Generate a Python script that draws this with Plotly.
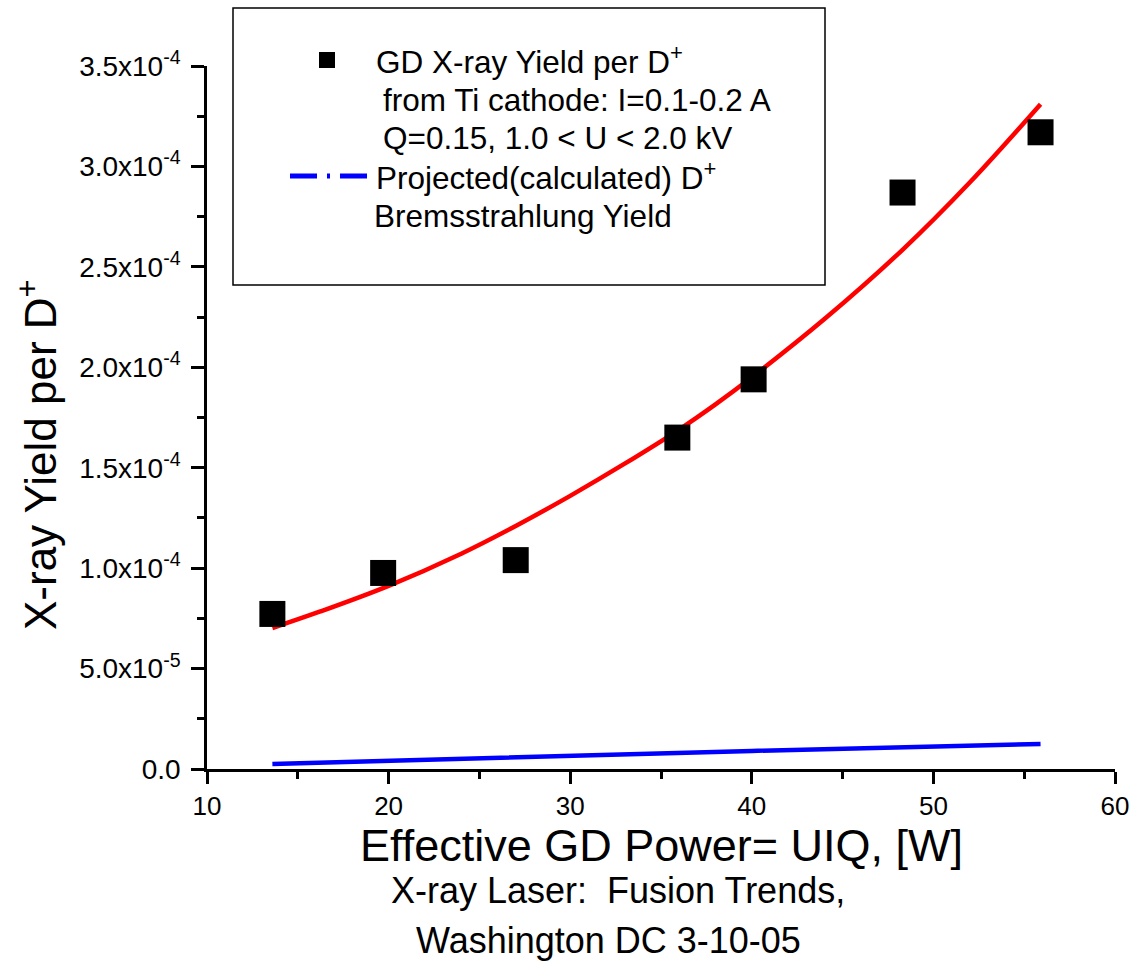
import plotly.graph_objects as go

# Measured data (GD X-ray yield per D+)
power_w = [13.6, 19.7, 27.0, 35.9, 40.1, 48.3, 55.9]
yield_meas = [7.72e-5, 9.76e-5, 1.04e-4, 1.65e-4, 1.94e-4, 2.87e-4, 3.17e-4]

# Fit curve
fit_x = [13.6, 16.2, 20.0, 24.0, 27.0, 30.0, 33.0, 36.0, 38.0, 40.0, 44.0, 48.3, 52.0, 55.9]
fit_y = [7.02e-5, 7.83e-5, 9.12e-5, 1.072e-4, 1.21e-4, 1.36e-4, 1.52e-4, 1.69e-4,
         1.815e-4, 1.95e-4, 2.24e-4, 2.585e-4, 2.92e-4, 3.31e-4]

# Projected bremsstrahlung yield
brems_x = [13.6, 27.0, 40.0, 55.9]
brems_y = [2.5e-6, 6.0e-6, 9.0e-6, 1.25e-5]

y_tickvals = [0, 5e-5, 1e-4, 1.5e-4, 2e-4, 2.5e-4, 3e-4, 3.5e-4]
y_ticktext = ["0.0", "5.0x10<sup>-5</sup>", "1.0x10<sup>-4</sup>", "1.5x10<sup>-4</sup>",
              "2.0x10<sup>-4</sup>", "2.5x10<sup>-4</sup>", "3.0x10<sup>-4</sup>",
              "3.5x10<sup>-4</sup>"]
x_tickvals = [10, 20, 30, 40, 50, 60]

FONT = "Liberation Sans, Arial, sans-serif"

fig = go.Figure()
fig.add_trace(go.Scatter(x=brems_x, y=brems_y, mode="lines",
                         line=dict(color="#0000ff", width=4.5), showlegend=False))
fig.add_trace(go.Scatter(x=fit_x, y=fit_y, mode="lines", line_shape="spline",
                         line=dict(color="#ff0000", width=4.5, smoothing=1), showlegend=False))
fig.add_trace(go.Scatter(x=power_w, y=yield_meas, mode="markers",
                         marker=dict(symbol="square", size=26, color="black"),
                         showlegend=False))

W, H = 1132, 967
L, R, T, B = 207, 17, 66, 198
pw, ph = W - L - R, H - T - B


def px(x):
    return (x - L) / pw


def py(y):
    return (H - B - y) / ph


shapes = [
    dict(type="rect", xref="paper", yref="paper", x0=px(233), x1=px(825), y0=py(285), y1=py(8),
         line=dict(color="black", width=1.5), fillcolor="white", layer="above"),
    dict(type="rect", xref="paper", yref="paper", x0=px(319), x1=px(335), y0=py(68), y1=py(52),
         line=dict(color="black", width=0), fillcolor="black", layer="above"),
    dict(type="line", xref="paper", yref="paper", x0=px(290), x1=px(368), y0=py(176), y1=py(176),
         line=dict(color="#0000ff", width=5, dash="27px,10px,3px,10px"), layer="above"),
]

legend_lines = [
    (374, 60, "GD X-ray Yield per D<sup>+</sup>"),
    (381, 100, "from Ti cathode: I=0.1-0.2 A"),
    (381, 138, "Q=0.15, 1.0 &lt; U &lt; 2.0 kV"),
    (374, 176, "Projected(calculated) D<sup>+</sup>"),
    (372, 216, "Bremsstrahlung Yield"),
]
annotations = []
for x0, y0, t in legend_lines:
    annotations.append(dict(xref="paper", yref="paper", x=px(x0), y=py(y0), text=t,
                            xanchor="left", yanchor="middle", showarrow=False,
                            font=dict(family=FONT, size=31.5, color="black")))

# axis titles
annotations.append(dict(xref="paper", yref="paper", x=px(661), y=py(845),
                        text="Effective GD Power= UIQ, [W]", xanchor="center", yanchor="middle",
                        showarrow=False, font=dict(family=FONT, size=45, color="black")))
annotations.append(dict(xref="paper", yref="paper", x=px(37), y=py(455),
                        text="X-ray Yield per D<sup>+</sup>", textangle=-90,
                        xanchor="center", yanchor="middle",
                        showarrow=False, font=dict(family=FONT, size=44, color="black")))

# footer
FOOT = "Liberation Sans Narrow, Arial Narrow, Liberation Sans, sans-serif"
annotations.append(dict(xref="paper", yref="paper", x=px(618), y=py(890),
                        text="X-ray Laser:  Fusion Trends,", xanchor="center", yanchor="middle",
                        showarrow=False, font=dict(family=FOOT, size=36, color="black")))
annotations.append(dict(xref="paper", yref="paper", x=px(608), y=py(941),
                        text="Washington DC 3-10-05", xanchor="center", yanchor="middle",
                        showarrow=False, font=dict(family=FOOT, size=36, color="black")))

fig.update_layout(
    width=W, height=H,
    margin=dict(l=L, r=R, t=T, b=B, pad=0),
    paper_bgcolor="white", plot_bgcolor="white",
    font=dict(family=FONT, color="black"),
    shapes=shapes, annotations=annotations,
    xaxis=dict(range=[10, 60], tickvals=x_tickvals, ticks="outside", ticklen=12, tickwidth=2.5,
               tickcolor="black", showline=True, linewidth=2.5, linecolor="black",
               showgrid=False, zeroline=False, tickfont=dict(size=26), automargin=False,
               ticklabelstandoff=0,
               minor=dict(dtick=5, ticks="outside", ticklen=7, tickwidth=2.5, tickcolor="black")),
    yaxis=dict(range=[0, 3.5e-4], tickvals=y_tickvals, ticktext=y_ticktext, ticks="outside",
               ticklen=13, tickwidth=2.5, tickcolor="black", showline=True, linewidth=2.5,
               linecolor="black", showgrid=False, zeroline=False, tickfont=dict(size=28),
               automargin=False, ticklabelstandoff=5,
               minor=dict(tickvals=[2.5e-5, 7.5e-5, 1.25e-4, 1.75e-4, 2.25e-4, 2.75e-4, 3.25e-4],
                          ticks="outside", ticklen=7, tickwidth=2.5, tickcolor="black")),
)

fig.write_html("out.html")
